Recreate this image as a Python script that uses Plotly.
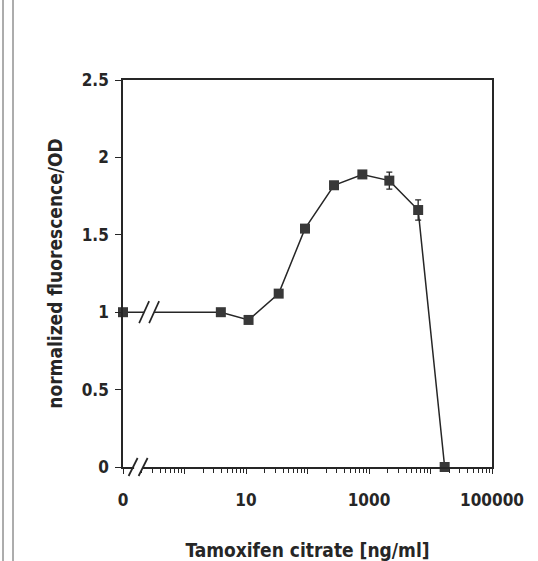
import math
import plotly.graph_objects as go

# Dose-response: tamoxifen citrate concentration vs. normalized fluorescence/OD
conc_ng_ml = [0, 3.9, 11, 34, 91, 270, 780, 2140, 6300, 17000]
fluor_od = [1.0, 1.0, 0.95, 1.12, 1.54, 1.82, 1.89, 1.85, 1.66, 0.0]
fluor_err = [0, 0, 0, 0, 0, 0, 0, 0.055, 0.065, 0]

# The untreated control (0 ng/ml) sits at the left edge of the log axis
CONTROL_X = 0.1
X_MIN, X_MAX = 0.1, 100000
Y_MIN, Y_MAX = 0, 2.5

major_ticks = [0.1, 1, 10, 100, 1000, 10000, 100000]
major_labels = ["0", "", "10", "", "1000", "", "100000"]
y_ticks = [0, 0.5, 1, 1.5, 2, 2.5]
y_labels = ["0", "0.5", "1", "1.5", "2", "2.5"]

# axis-break positions (data units on the log axis)
AXIS_BREAK_X = 0.176
LINE_BREAK_X = 0.266

INK = "#262626"
FONT = "DejaVu Sans Condensed"

W, H = 538, 561
MARGIN = dict(l=123, r=46, t=80, b=94)
PLOT_W = W - MARGIN["l"] - MARGIN["r"]
PLOT_H = H - MARGIN["t"] - MARGIN["b"]

x_plot = [CONTROL_X if c == 0 else c for c in conc_ng_ml]

fig = go.Figure()
fig.add_trace(go.Scatter(
    x=x_plot, y=fluor_od,
    mode="lines+markers",
    line=dict(color=INK, width=1.5),
    marker=dict(symbol="square", size=10, color="#383838", line=dict(width=0)),
    error_y=dict(type="data", array=fluor_err, visible=True,
                 color=INK, thickness=1.3, width=3),
    cliponaxis=False,
    showlegend=False,
))


def paper_x(x):
    return (math.log10(x) - math.log10(X_MIN)) / (math.log10(X_MAX) - math.log10(X_MIN))


def paper_y(y):
    return (y - Y_MIN) / (Y_MAX - Y_MIN)


def break_marks(x_data, y_data, gap_w, gap_h, dx, half_w, half_h):
    """White gap plus a pair of '//' strokes (sizes in pixels) around a data point."""
    cx, cy = paper_x(x_data), paper_y(y_data)
    px, py = 1.0 / PLOT_W, 1.0 / PLOT_H
    shapes = [dict(
        type="rect", xref="paper", yref="paper",
        x0=cx - gap_w * px, x1=cx + gap_w * px,
        y0=cy - gap_h * py, y1=cy + gap_h * py,
        fillcolor="white", line=dict(width=0), layer="above",
    )]
    for off in (-dx, dx):
        shapes.append(dict(
            type="line", xref="paper", yref="paper",
            x0=cx + (off - half_w) * px, x1=cx + (off + half_w) * px,
            y0=cy - half_h * py, y1=cy + half_h * py,
            line=dict(color=INK, width=1.7), layer="above",
        ))
    return shapes


shapes = []
shapes += break_marks(AXIS_BREAK_X, Y_MIN, 4, 3, 5, 4.5, 9)
shapes += break_marks(LINE_BREAK_X, fluor_od[0], 5, 3, 5, 5, 11)

# thin frame rules along the left edge of the figure panel
for edge_px in (3, 13):
    shapes.append(dict(
        type="line", xref="paper", yref="paper",
        x0=(edge_px - MARGIN["l"]) / PLOT_W, x1=(edge_px - MARGIN["l"]) / PLOT_W,
        y0=-MARGIN["b"] / PLOT_H, y1=1 + MARGIN["t"] / PLOT_H,
        line=dict(color="#5a5a5a", width=1),
    ))

fig.update_layout(
    width=W, height=H,
    margin=MARGIN,
    paper_bgcolor="white", plot_bgcolor="white",
    font=dict(family=FONT, color=INK, size=17, weight="bold"),
    shapes=shapes,
    xaxis=dict(
        type="log",
        range=[math.log10(X_MIN), math.log10(X_MAX)],
        automargin=False,
        tickmode="array", tickvals=major_ticks, ticktext=major_labels,
        ticks="outside", ticklen=5, tickwidth=1.3, tickcolor=INK,
        minor=dict(dtick="D1", ticks="outside", ticklen=4,
                   tickwidth=1.1, tickcolor=INK, showgrid=False),
        showline=True, linecolor=INK, linewidth=1.6, mirror=True,
        showgrid=False, zeroline=False,
        tickfont=dict(size=17, family=FONT, color=INK, weight="bold"),
        ticklabelstandoff=12,
        title=dict(text="Tamoxifen citrate [ng/ml]",
                   font=dict(size=19, family=FONT, color=INK, weight="bold"),
                   standoff=43),
    ),
    yaxis=dict(
        range=[Y_MIN, Y_MAX],
        automargin=False,
        tickmode="array", tickvals=y_ticks, ticktext=y_labels,
        ticks="outside", ticklen=6, tickwidth=1.3, tickcolor=INK,
        showline=True, linecolor=INK, linewidth=1.6, mirror=True,
        showgrid=False, zeroline=False,
        tickfont=dict(size=17, family=FONT, color=INK, weight="bold"),
        ticklabelstandoff=3,
        title=dict(text="normalized fluorescence/OD",
                   font=dict(size=19, family=FONT, color=INK, weight="bold"),
                   standoff=14),
    ),
)

fig.write_html("out.html")
